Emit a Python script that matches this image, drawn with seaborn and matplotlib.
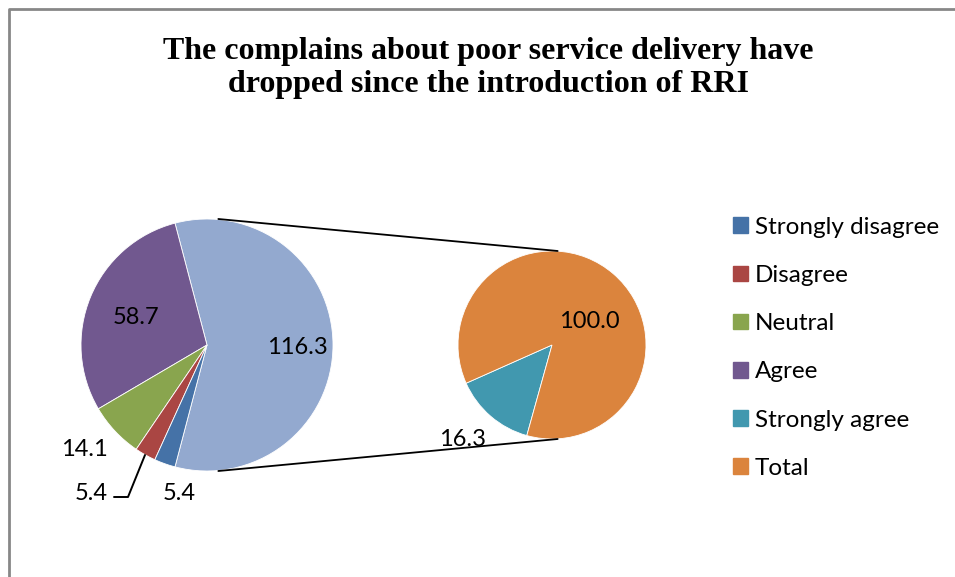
import numpy as np
import matplotlib
matplotlib.use('Agg')
import matplotlib.pyplot as plt
import seaborn as sns
from matplotlib.patches import Patch

# data
main_labels = ['Strongly disagree', 'Disagree', 'Neutral', 'Agree']
main_values = [5.4, 5.4, 14.1, 58.7]
sub_labels = ['Strongly agree', 'Total']
sub_values = [16.3, 100.0]
title = 'The complains about poor service delivery have\ndropped since the introduction of RRI'

colors = {'Strongly disagree': '#4572A7', 'Disagree': '#AA4643', 'Neutral': '#89A54E',
          'Agree': '#71588F', 'Strongly agree': '#4198AF', 'Total': '#DB843D'}
other_color = '#93A9CF'

sns.set_theme(style='white')
plt.rcParams['font.family'] = ['Lato', 'DejaVu Sans']
plt.rcParams['text.color'] = 'black'

W, H = 955, 577
fig = plt.figure(figsize=(W / 100, H / 100), dpi=100)
ax = fig.add_axes([0, 0, 1, 1])

# pie geometry in pixels (y from bottom)
c1 = (207, H - 345); r1 = 126
c2 = (552, H - 345); r2 = 94

other = sum(sub_values)
ang_other = 360 * other / (sum(main_values) + other)
# "other" slice centred on the right, the rest follow counter-clockwise
order1 = [other] + main_values[::-1]
cols1 = [other_color] + [colors[k] for k in main_labels[::-1]]
wedges1, _ = ax.pie(order1, colors=cols1, center=c1, radius=r1, startangle=-ang_other / 2,
                    counterclock=True, wedgeprops=dict(linewidth=0.6, edgecolor='white'))

wedges2, _ = ax.pie(sub_values, colors=[colors[k] for k in sub_labels], center=c2, radius=r2,
                    startangle=204, counterclock=True, wedgeprops=dict(linewidth=0.6, edgecolor='white'))

ax.set_xlim(0, W)
ax.set_ylim(0, H)
ax.set_aspect('equal')
ax.axis('off')

# connector lines between the pies
ax.plot([c1[0] + 0.09 * r1, c2[0] + 0.06 * r2], [c1[1] + r1, c2[1] + r2], color='black', lw=1.3)
ax.plot([c1[0] + 0.09 * r1, c2[0] + 0.06 * r2], [c1[1] - r1, c2[1] - r2], color='black', lw=1.3)

fs = 17
def fmt(v):
    return f'{v:.1f}'

# data labels
ax.text(297, H - 348, fmt(other), fontsize=fs, ha='center', va='center')
ax.text(136, H - 318, fmt(main_values[3]), fontsize=fs, ha='center', va='center')
ax.text(84, H - 449, fmt(main_values[2]), fontsize=fs, ha='center', va='center')
ax.text(91, H - 493, fmt(main_values[1]), fontsize=fs, ha='center', va='center')
ax.text(179, H - 493, fmt(main_values[0]), fontsize=fs, ha='center', va='center')
ax.plot([145, 128, 114], [H - 455, H - 497, H - 497], color='black', lw=1.4)
ax.text(589, H - 321, fmt(sub_values[1]), fontsize=fs, ha='center', va='center')
ax.text(463, H - 440, fmt(sub_values[0]), fontsize=fs, ha='center', va='center')

# title
ax.text(488, H - 68, title, fontsize=23, fontweight='bold', family='Liberation Serif',
        ha='center', va='center', linespacing=1.2)

# chart border (left and top visible)
ax.plot([9, 9, W], [0, H - 9, H - 9], color='#878787', lw=2, solid_capstyle='butt')

# legend
handles = [Patch(color=colors[k]) for k in main_labels + sub_labels]
ax.legend(handles, main_labels + sub_labels, loc='upper left', bbox_to_anchor=(723 / W, 1 - 207 / H),
          frameon=False, fontsize=17.5, handlelength=0.62, handleheight=0.62, handletextpad=0.3,
          labelspacing=1.12, borderaxespad=0)

fig.savefig('out.png', dpi=100)
